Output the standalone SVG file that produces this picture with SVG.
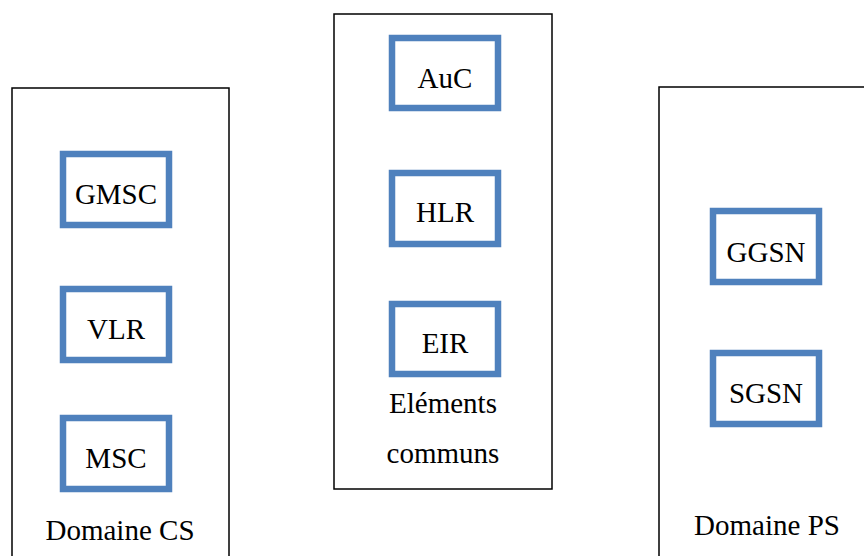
<svg xmlns="http://www.w3.org/2000/svg" width="864" height="556" viewBox="0 0 864 556">
<style>
.box{fill:#fff;stroke:#000;stroke-width:1.5}
.node{fill:#fff;stroke:#4F81BD;stroke-width:6.5}
text{font-family:"Liberation Serif","Times New Roman",serif;font-size:29px;fill:#000;text-anchor:middle}
</style>
<rect width="864" height="556" fill="#fff"/>
<g id="domaine-cs">
<rect class="box" x="12" y="88" width="217" height="480"/>
<text x="120" y="540">Domaine CS</text>
</g>
<g id="elements-communs">
<rect class="box" x="334" y="14" width="218" height="475"/>
<text x="443" y="413">Eléments</text>
<text x="443" y="463">communs</text>
</g>
<g id="domaine-ps">
<rect class="box" x="659" y="87" width="240" height="480"/>
<text x="767" y="535">Domaine PS</text>
</g>
<g id="gmsc"><rect class="node" x="63" y="154" width="106" height="71"/><text x="116" y="204">GMSC</text></g>
<g id="vlr"><rect class="node" x="63" y="289" width="106" height="71"/><text x="116" y="339">VLR</text></g>
<g id="msc"><rect class="node" x="63" y="418" width="106" height="71"/><text x="116" y="468">MSC</text></g>
<g id="auc"><rect class="node" x="392" y="38" width="106" height="70"/><text x="445" y="88">AuC</text></g>
<g id="hlr"><rect class="node" x="392" y="173" width="106" height="71"/><text x="445" y="222">HLR</text></g>
<g id="eir"><rect class="node" x="392" y="304" width="106" height="70"/><text x="445" y="353">EIR</text></g>
<g id="ggsn"><rect class="node" x="713" y="211" width="106" height="71"/><text x="766" y="262">GGSN</text></g>
<g id="sgsn"><rect class="node" x="713" y="353" width="106" height="71"/><text x="766" y="403">SGSN</text></g>
<g id="connectors"></g>
</svg>
